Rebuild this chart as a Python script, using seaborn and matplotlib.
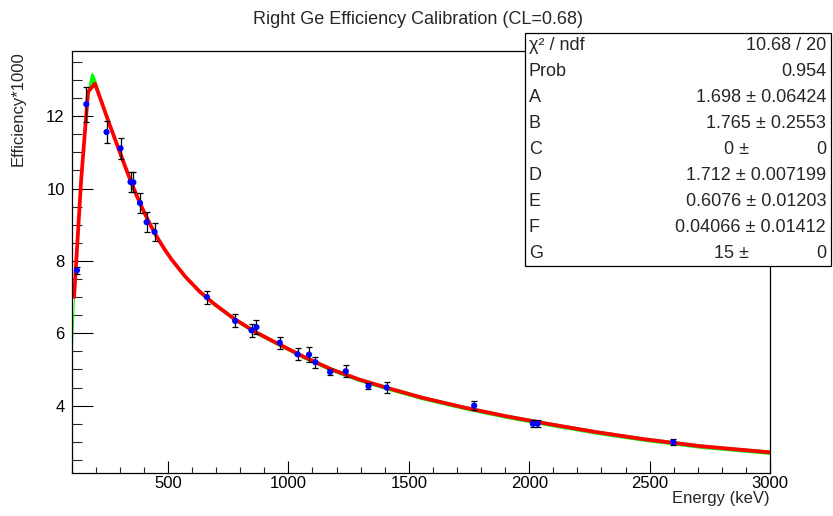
import numpy as np
import pandas as pd
import matplotlib
matplotlib.use("Agg")
import matplotlib.pyplot as plt
from matplotlib.patches import Rectangle
from matplotlib.ticker import MultipleLocator
import seaborn as sns

# ---------------- data ----------------
energy = [121.8, 160.6, 244.7, 302.9, 344.3, 356.0, 383.8, 411.1, 444.0, 661.7,
          778.9, 846.8, 867.4, 964.1, 1037.8, 1085.8, 1112.1, 1173.2, 1238.3,
          1332.5, 1408.0, 1771.4, 2015.2, 2034.8, 2598.5]
eff = [7.74, 12.33, 11.56, 11.11, 10.18, 10.17, 9.60, 9.07, 8.80, 7.00,
       6.34, 6.08, 6.17, 5.74, 5.42, 5.41, 5.20, 4.93, 4.95,
       4.54, 4.50, 4.00, 3.50, 3.50, 2.99]
eff_err = [0.10, 0.48, 0.31, 0.29, 0.28, 0.28, 0.28, 0.28, 0.26, 0.18,
           0.18, 0.18, 0.19, 0.17, 0.17, 0.20, 0.15, 0.07, 0.16,
           0.08, 0.14, 0.13, 0.10, 0.10, 0.08]

# fitted function as drawn (polyline vertices)
fit_e = [110.0, 138.9, 167.8, 196.7, 225.6, 254.5, 283.4, 312.3, 341.2, 370.1,
         399.0, 427.9, 456.8, 485.7, 514.6, 572.4, 630.2, 688.0, 774.7, 861.4,
         948.1, 1063.7, 1179.3, 1294.9, 1410.5, 1555.0, 1728.4, 1901.8, 2075.2,
         2277.5, 2479.8, 2711.0, 3000.0]
fit_y = [7.00, 10.20, 12.67, 12.90, 12.36, 11.82, 11.30, 10.78, 10.27, 9.80,
         9.37, 8.98, 8.63, 8.32, 8.04, 7.56, 7.16, 6.83, 6.40, 6.04,
         5.74, 5.35, 5.00, 4.72, 4.49, 4.22, 3.95, 3.71, 3.50,
         3.27, 3.07, 2.88, 2.71]

# confidence band (CL = 0.68)
band_e = [100, 105, 110, 120, 130, 140, 150, 160, 167.8, 175, 182, 190, 196.7,
          210, 225.6, 254.5, 283.4, 312.3, 341.2, 370.1, 399.0, 427.9, 456.8,
          485.7, 514.6, 572.4, 630.2, 688.0, 774.7, 861.4, 948.1, 1063.7, 1179.3,
          1294.9, 1410.5, 1555.0, 1728.4, 1901.8, 2075.2, 2277.5, 2479.8, 2711.0,
          3000.0]
band_lo = [5.15, 5.95, 6.75, 8.05, 9.20, 10.25, 11.15, 11.90, 12.38, 12.70, 12.82,
           12.82, 12.75, 12.52, 12.26, 11.74, 11.24, 10.72, 10.21, 9.74, 9.31,
           8.92, 8.57, 8.26, 7.98, 7.50, 7.10, 6.77, 6.34, 5.98, 5.68, 5.29, 4.94,
           4.66, 4.43, 4.16, 3.89, 3.65, 3.44, 3.21, 3.01, 2.82, 2.65]
band_hi = [5.90, 6.60, 7.25, 8.55, 9.70, 10.75, 11.65, 12.40, 12.80, 13.08, 13.22,
           13.17, 13.06, 12.78, 12.46, 11.90, 11.36, 10.84, 10.33, 9.86, 9.43,
           9.04, 8.69, 8.38, 8.10, 7.62, 7.22, 6.89, 6.46, 6.10, 5.80, 5.41, 5.06,
           4.78, 4.55, 4.28, 4.01, 3.77, 3.56, 3.33, 3.13, 2.94, 2.77]

x_ticks = [500, 1000, 1500, 2000, 2500, 3000]
y_ticks = [4, 6, 8, 10, 12]

title = "Right Ge Efficiency Calibration (CL=0.68)"
x_label = "Energy (keV)"
y_label = "Efficiency*1000"

stat_labels = ["χ² / ndf", "Prob", "A", "B", "C", "D", "E", "F", "G"]
stat_values = ["10.68 / 20", "0.954", "1.698 ± 0.06424", "1.765 ± 0.2553", "0 ±",
               "1.712 ± 0.007199", "0.6076 ± 0.01203", "0.04066 ± 0.01412", "15 ±"]
stat_pad = ["", "", "", "", "0", "", "", "", "0"]

# ---------------- style ----------------
sns.set_theme(style="ticks")
plt.rcParams["font.family"] = ["Liberation Sans", "DejaVu Sans"]
plt.rcParams["axes.linewidth"] = 0.9

W, H = 833, 516
fig = plt.figure(figsize=(W / 100, H / 100), dpi=100)
fig.patch.set_facecolor("white")
L, R, T, B = 71.7, 770.0, 51.0, 472.7
ax = fig.add_axes([L / W, 1 - B / H, (R - L) / W, (B - T) / H])
ax.set_facecolor("white")

# band
ax.fill_between(band_e, band_lo, band_hi, color="#00ff00", lw=0, zorder=1)

# fitted curve
fit_df = pd.DataFrame({"E": fit_e, "Y": fit_y})
sns.lineplot(data=fit_df, x="E", y="Y", ax=ax, color="#ff0000", lw=2.7,
             sort=False, estimator=None, zorder=2)

# data points
pts = pd.DataFrame({"E": energy, "Y": eff, "err": eff_err})
ax.errorbar(pts["E"], pts["Y"], yerr=pts["err"], fmt="none", ecolor="black",
            elinewidth=0.9, capsize=2.0, capthick=0.9, zorder=3)
sns.scatterplot(data=pts, x="E", y="Y", ax=ax, color="#0000ff", s=20,
                edgecolor="none", zorder=4)

ax.set_xlim(100, 3000)
ax.set_ylim(2.147, 13.80)
ax.set_xticks(x_ticks)
ax.set_yticks(y_ticks)
ax.xaxis.set_minor_locator(MultipleLocator(100))
ax.yaxis.set_minor_locator(MultipleLocator(0.5))
ax.tick_params(axis="x", which="major", direction="in", length=8.6, width=0.8,
               labelsize=12, pad=2.5, colors="black", top=False)
ax.tick_params(axis="x", which="minor", direction="in", length=4.3, width=0.8, top=False)
ax.tick_params(axis="y", which="major", direction="in", length=14.9, width=0.8,
               labelsize=12, pad=5, colors="black", right=False)
ax.tick_params(axis="y", which="minor", direction="in", length=7.5, width=0.8, right=False)
for s in ax.spines.values():
    s.set_color("black")
ax.set_xlabel("")
ax.set_ylabel("")
ax.grid(False)

# axis titles
fig.text(R / W, 1 - 499 / H, x_label, ha="right", va="center", fontsize=12)
fig.text(18 / W, 1 - T / H, y_label, ha="center", va="top", rotation=90, fontsize=12)

# title
fig.text(418 / W, 1 - 19 / H, title, ha="center", va="center", fontsize=13.0)

# stats box
bx0, by0, bx1, by1 = 525, 33, 831, 266
fig.patches.append(Rectangle((bx0 / W, 1 - by1 / H), (bx1 - bx0) / W, (by1 - by0) / H,
                             transform=fig.transFigure, facecolor="white",
                             edgecolor="black", lw=0.9, zorder=10))
fs = 13.0
for i, (lab, val, pad) in enumerate(zip(stat_labels, stat_values, stat_pad)):
    yc = 1 - (46 + 25.9 * i) / H
    fig.text(529 / W, yc, lab, ha="left", va="center", fontsize=fs, zorder=11)
    if pad:
        fig.text(749 / W, yc, val, ha="right", va="center", fontsize=fs, zorder=11)
        fig.text(826 / W, yc, pad, ha="right", va="center", fontsize=fs, zorder=11)
    else:
        fig.text(826 / W, yc, val, ha="right", va="center", fontsize=fs, zorder=11)

fig.savefig("out.png", dpi=100)
